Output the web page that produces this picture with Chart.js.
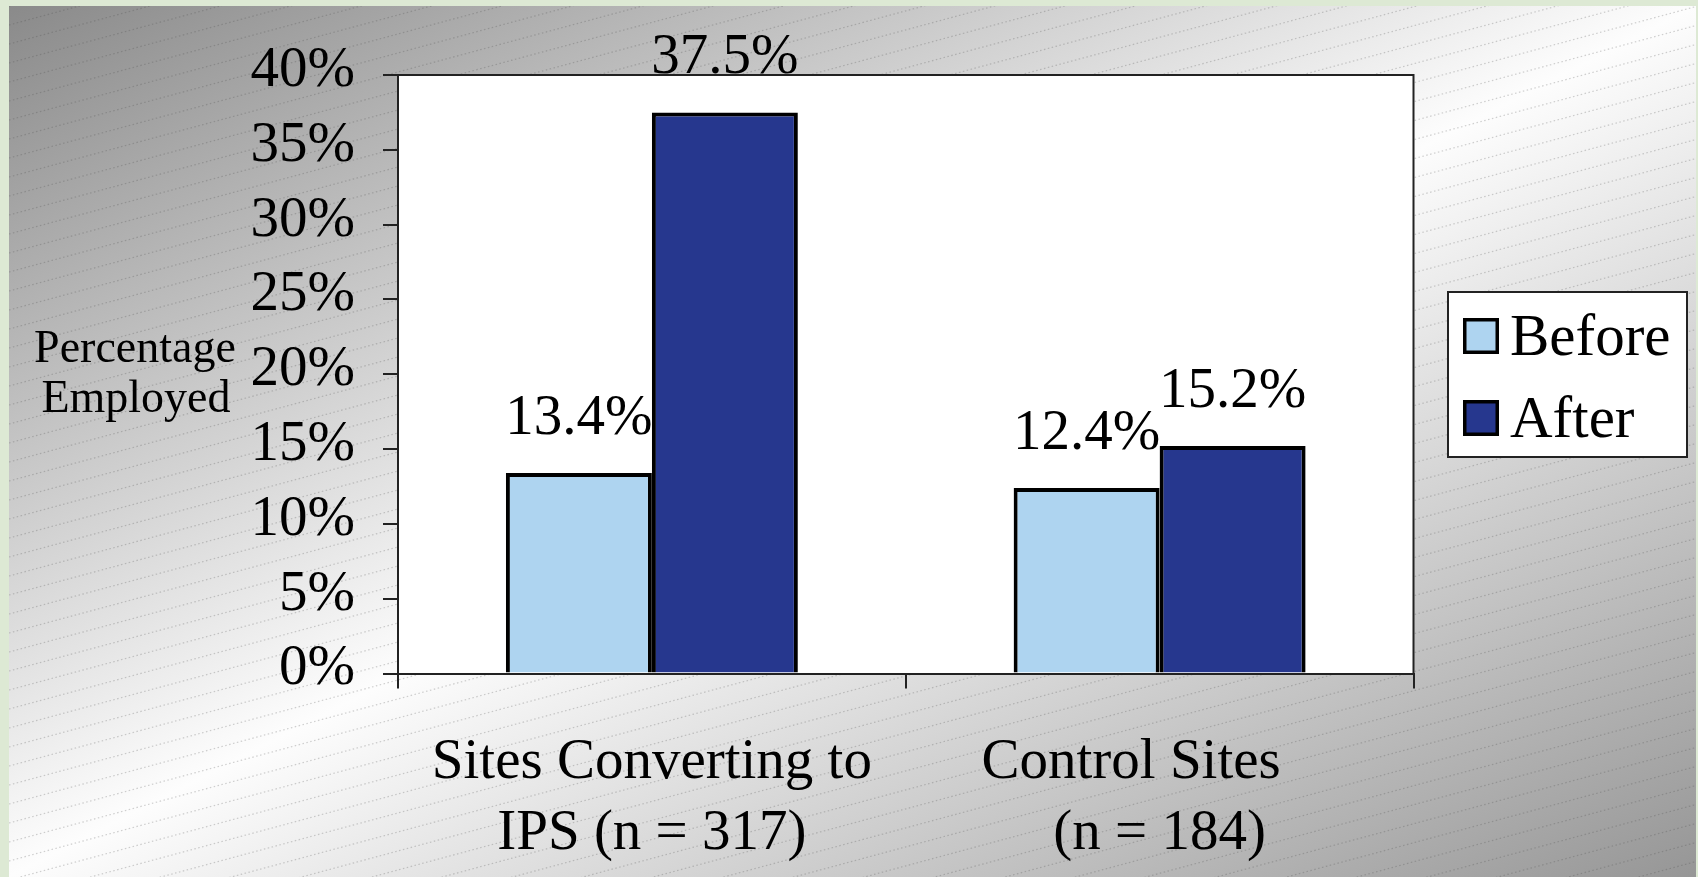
<!DOCTYPE html>
<html>
<head>
<meta charset="utf-8">
<script src="https://cdn.jsdelivr.net/npm/chart.js@4.4.0/dist/chart.umd.min.js"></script>
<style>
  html, body { margin: 0; padding: 0; background: #dde9d4; }
  #wrap { width: 1698px; height: 877px; }
</style>
</head>
<body>
<div id="wrap"><canvas id="employment-chart"></canvas></div>
<script>
// chart data
const categories = [["Sites Converting to", "IPS (n = 317)"], ["Control Sites    ", "(n = 184)"]];
const seriesNames = ["Before", "After"];
const beforeValues = [13.4, 12.4];
const afterValues = [37.5, 15.2];
const yMin = 0;
const yMax = 40;
const yStep = 5;
const yTitle = ["Percentage", "Employed"];

const serif = "'Liberation Serif', 'Times New Roman', serif";

function renderChart() {
  const ctx = document.getElementById("employment-chart");

  // slide background: grey diagonal gradient with dotted hatch, white plot area
  const backgroundPlugin = {
    id: "slideBackground",
    beforeDraw: (chart) => {
      const { ctx, width, height, chartArea } = chart;
      ctx.save();
      ctx.fillStyle = "#dde9d4";
      ctx.fillRect(0, 0, width, height);

      const px = 9, py = 6, pw = width - 11, ph = height - 6;
      ctx.save();
      ctx.translate(px, py);
      ctx.scale(pw, ph);
      const g = ctx.createLinearGradient(0, 0, 1, 1);
      g.addColorStop(0, "#8a8a8a");
      g.addColorStop(0.5, "#fdfdfd");
      g.addColorStop(1, "#969696");
      ctx.fillStyle = g;
      ctx.fillRect(0, 0, 1, 1);
      ctx.restore();

      ctx.beginPath();
      ctx.rect(px, py, pw, ph);
      ctx.clip();
      const slope = 0.27;
      ctx.strokeStyle = "rgba(70,70,70,0.25)";
      ctx.lineWidth = 1.2;
      ctx.setLineDash([1.5, 2.5]);
      ctx.beginPath();
      for (let c = 0; c < ph + pw * slope + 20; c += 19) {
        ctx.moveTo(px, py + c);
        ctx.lineTo(px + pw, py + c - pw * slope);
      }
      ctx.stroke();
      ctx.setLineDash([]);

      ctx.fillStyle = "#ffffff";
      ctx.fillRect(chartArea.left, chartArea.top, chartArea.right - chartArea.left, chartArea.bottom - chartArea.top);
      ctx.restore();
    },
    beforeDatasetsDraw: (chart) => {
      const { ctx, chartArea } = chart;
      ctx.save();
      ctx.strokeStyle = "#222";
      ctx.lineWidth = 2;
      ctx.beginPath();
      ctx.moveTo(chartArea.left, chartArea.top);
      ctx.lineTo(chartArea.right, chartArea.top);
      ctx.lineTo(chartArea.right, chartArea.bottom);
      ctx.stroke();
      ctx.restore();
    },
  };

  // value labels above bars, y title, boxed legend
  const labelsPlugin = {
    id: "valueLabels",
    afterDatasetsDraw: (chart) => {
      const { ctx } = chart;
      ctx.save();
      ctx.fillStyle = "#000";
      ctx.font = "57px " + serif;
      ctx.textAlign = "center";
      ctx.textBaseline = "alphabetic";
      chart.data.datasets.forEach((ds, i) => {
        chart.getDatasetMeta(i).data.forEach((bar, j) => {
          ctx.fillText(ds.data[j].toFixed(1) + "%", bar.x, bar.y - 39);
        });
      });
      ctx.restore();
    },
    afterDraw: (chart) => {
      const { ctx } = chart;
      ctx.save();
      ctx.fillStyle = "#000";
      ctx.font = "46px " + serif;
      ctx.textAlign = "center";
      ctx.textBaseline = "alphabetic";
      ctx.fillText(yTitle[0], 135, 362);
      ctx.fillText(yTitle[1], 136, 412);

      // legend
      const lx = 1448, ly = 292, lw = 239, lh = 165;
      ctx.fillStyle = "#fff";
      ctx.fillRect(lx, ly, lw, lh);
      ctx.strokeStyle = "#222";
      ctx.lineWidth = 2;
      ctx.strokeRect(lx, ly, lw, lh);
      ctx.font = "59px " + serif;
      ctx.textAlign = "left";
      ctx.textBaseline = "middle";
      chart.data.datasets.forEach((ds, i) => {
        const sy = 318 + i * 82;
        ctx.fillStyle = ds.backgroundColor;
        ctx.fillRect(1463, sy, 36, 36);
        ctx.strokeStyle = "#000";
        ctx.lineWidth = 3.5;
        ctx.strokeRect(1464.75, sy + 1.75, 32.5, 32.5);
        ctx.fillStyle = "#000";
        ctx.fillText(ds.label, 1510, sy + 21);
      });
      ctx.restore();
    },
  };

  new Chart(ctx, {
    type: "bar",
    data: {
      labels: categories,
      datasets: [
        {
          label: seriesNames[0],
          data: beforeValues,
          backgroundColor: "#aed4f0",
          borderColor: "#000",
          borderWidth: 4,
          borderSkipped: "start",
          categoryPercentage: 0.575,
          barPercentage: 1.0,
        },
        {
          label: seriesNames[1],
          data: afterValues,
          backgroundColor: "#26378e",
          borderColor: "#000",
          borderWidth: 4,
          borderSkipped: "start",
          categoryPercentage: 0.575,
          barPercentage: 1.0,
        },
      ],
    },
    options: {
      responsive: true,
      maintainAspectRatio: false,
      animation: false,
      layout: { padding: { top: 75, right: 284.5, left: 0, bottom: 0 } },
      plugins: {
        legend: { display: false },
        tooltip: { enabled: false },
      },
      scales: {
        x: {
          grid: { offset: true, drawOnChartArea: false, tickLength: 15, color: "#222", lineWidth: 2 },
          border: { color: "#222", width: 2 },
          ticks: {
            color: "#000",
            font: { family: serif, size: 57, lineHeight: 1.25 },
            padding: 39,
            maxRotation: 0,
            autoSkip: false,
          },
          afterFit: (scale) => { scale.height = 203.5; },
        },
        y: {
          min: yMin,
          max: yMax,
          grid: { drawOnChartArea: false, tickLength: 15, color: "#222", lineWidth: 2 },
          border: { color: "#222", width: 2 },
          ticks: {
            stepSize: yStep,
            color: "#000",
            font: { family: serif, size: 57 },
            padding: 28,
            labelOffset: -4,
            callback: (v) => v + "%",
          },
          afterFit: (scale) => { scale.width = 398; },
        },
      },
    },
    plugins: [backgroundPlugin, labelsPlugin],
  });
}

renderChart();
</script>
</body>
</html>
